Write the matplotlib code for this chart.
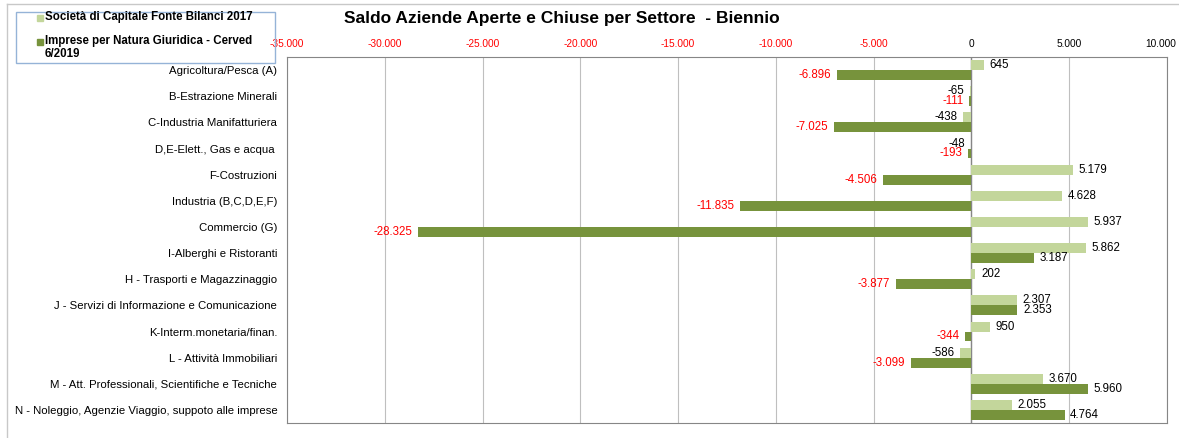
import numpy as np
import matplotlib.pyplot as plt
import matplotlib.transforms as mtransforms
from matplotlib.patches import Rectangle
from matplotlib.lines import Line2D

categories = [
    "Agricoltura/Pesca (A)",
    "B-Estrazione Minerali",
    "C-Industria Manifatturiera",
    "D,E-Elett., Gas e acqua ",
    "F-Costruzioni",
    "Industria (B,C,D,E,F)",
    "Commercio (G)",
    "I-Alberghi e Ristoranti",
    "H - Trasporti e Magazzinaggio",
    "J - Servizi di Informazione e Comunicazione",
    "K-Interm.monetaria/finan.",
    "L - Attività Immobiliari",
    "M - Att. Professionali, Scientifiche e Tecniche",
    "N - Noleggio, Agenzie Viaggio, suppoto alle imprese",
]
societa = [645, -65, -438, -48, 5179, 4628, 5937, 5862, 202, 2307, 950, -586, 3670, 2055]
imprese = [-6896, -111, -7025, -193, -4506, -11835, -28325, 3187, -3877, 2353, -344, -3099, 5960, 4764]
xticks = [-35000, -30000, -25000, -20000, -15000, -10000, -5000, 0, 5000, 10000]
series_names = ["Società di Capitale Fonte Bilanci 2017",
                "Imprese per Natura Giuridica - Cerved\n6/2019"]

light = "#C3D69B"
dark = "#77933C"
font = "Liberation Sans"
W, H = 1179, 438


def fmt(v):
    return f"{v:,}".replace(",", ".")


fig = plt.figure(figsize=(11.79, 4.38), dpi=100)
ax = fig.add_axes([287 / W, 1 - 423 / H, (1167 - 287) / W, (423 - 57) / H])

y = np.arange(len(categories))
h = 0.38
ax.barh(y - h / 2, societa, height=h, color=light, zorder=3)
ax.barh(y + h / 2, imprese, height=h, color=dark, zorder=3)

# data labels
for i in range(len(categories)):
    v = societa[i]
    ax.annotate(fmt(v), (v, i - h / 2), xytext=(4 if v >= 0 else -4, 0), textcoords="offset points",
                ha="left" if v >= 0 else "right", va="center", fontsize=8.3, color="black", family=font)
    v = imprese[i]
    ax.annotate(fmt(v), (v, i + h / 2), xytext=(4 if v >= 0 else -4, 0), textcoords="offset points",
                ha="left" if v >= 0 else "right", va="center", fontsize=8.3,
                color="black" if v >= 0 else "red", family=font)

ax.set_xlim(-35000, 10000)
ax.set_ylim(len(categories) - 0.5, -0.5)
ax.set_yticks(y)
ax.set_yticklabels(categories, fontsize=8.2, family=font)
ax.xaxis.tick_top()
ax.set_xticks(xticks)
ax.set_xticklabels([fmt(t) for t in xticks], fontsize=7.3, family=font)
for lbl, t in zip(ax.get_xticklabels(), xticks):
    lbl.set_color("red" if t < 0 else "black")
ax.tick_params(axis="x", length=0, pad=6)
ax.tick_params(axis="y", length=0, pad=7)

# keep the last tick label inside the picture
last = ax.get_xticklabels()[-1]
last.set_transform(last.get_transform() + mtransforms.ScaledTranslation(-6 / 100, 0, fig.dpi_scale_trans))

ax.grid(axis="x", color="#BFBFBF", linewidth=0.8, zorder=0)
ax.axvline(0, color="#868686", linewidth=1, zorder=2)
for s in ax.spines.values():
    s.set_color("#868686")

fig.text(562 / W, 1 - 18 / H, "Saldo Aziende Aperte e Chiuse per Settore  - Biennio",
         ha="center", va="center", fontsize=12.5, fontweight="bold", family=font)

# legend box drawn by hand
fig.patches.append(Rectangle((16 / W, 1 - 63 / H), (275 - 16) / W, (63 - 12) / H,
                             transform=fig.transFigure, fill=False,
                             edgecolor="#95B3D7", linewidth=1))
for col, name, ly in zip([light, dark], series_names, [18, 42]):
    fig.patches.append(Rectangle((37 / W, 1 - (ly + 3) / H), 6 / W, 6 / H,
                                 transform=fig.transFigure, color=col))
    fig.text(45 / W, 1 - (ly - 7) / H, name, ha="left", va="top", fontsize=8.3,
             fontweight="bold", family=font, linespacing=1.15)

# outer frame (top and left only, the rest is cropped)
fig.lines.append(Line2D([7.5 / W, 7.5 / W], [0, 1 - 3.5 / H], transform=fig.transFigure,
                        color="#C8C8C8", linewidth=1))
fig.lines.append(Line2D([7.5 / W, 1], [1 - 3.5 / H, 1 - 3.5 / H], transform=fig.transFigure,
                        color="#C8C8C8", linewidth=1))

plt.savefig("out.png", dpi=100)
